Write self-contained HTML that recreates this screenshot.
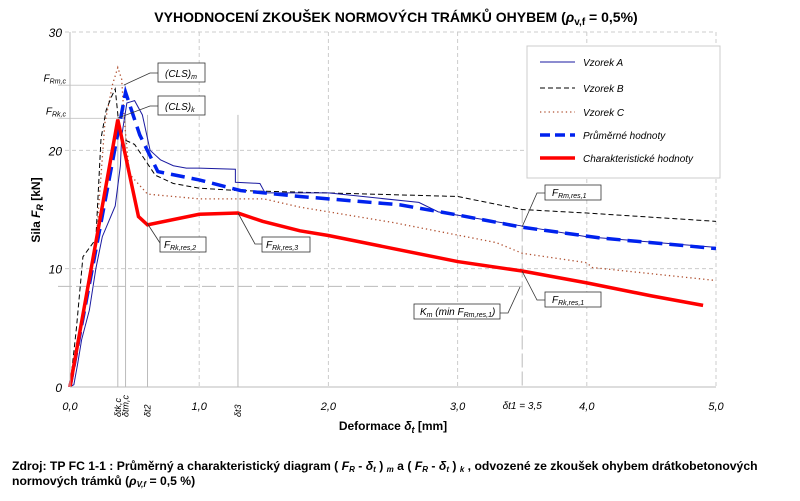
<!DOCTYPE html>
<html><head><meta charset="utf-8"><style>
body{margin:0;background:#fff;font-family:"Liberation Sans",sans-serif}
svg text{font-family:"Liberation Sans",sans-serif}
.it{font-style:italic}
</style></head><body>
<svg id="chart" width="800" height="496" viewBox="0 0 800 496" xmlns="http://www.w3.org/2000/svg">
<text x="396" y="22" text-anchor="middle" font-size="14" font-weight="bold">VYHODNOCENÍ ZKOUŠEK NORMOVÝCH TRÁMKŮ OHYBEM (<tspan class="it">ρ</tspan><tspan font-size="10" dy="3">v,f</tspan><tspan dy="-3"> = 0,5%)</tspan></text>
<g id="grid"></g>
<g id="refs"></g>
<g id="series"></g>
<g id="axes"></g>
<text transform="translate(40,210) rotate(-90)" text-anchor="middle" font-size="12" font-weight="bold">Sila <tspan class="it">F</tspan><tspan font-size="9" dy="3" class="it">R</tspan><tspan dy="-3"> [kN]</tspan></text>
<text x="393" y="430" text-anchor="middle" font-size="12" font-weight="bold">Deformace <tspan class="it">δ</tspan><tspan font-size="9" dy="3" class="it">t</tspan><tspan dy="-3"> [mm]</tspan></text>
<g>
<rect x="527" y="46" width="193" height="132" fill="#fff" stroke="#ccc"/>
<line x1="540" y1="62" x2="575" y2="62" stroke="#1a1aa0" stroke-width="1"/>
<text x="583" y="66" font-size="10" class="it">Vzorek A</text>
<line x1="540" y1="88" x2="575" y2="88" stroke="#000" stroke-width="1" stroke-dasharray="5,3"/>
<text x="583" y="92" font-size="10" class="it">Vzorek B</text>
<line x1="540" y1="112" x2="575" y2="112" stroke="#b05030" stroke-width="1.3" stroke-dasharray="1.3,3"/>
<text x="583" y="116" font-size="10" class="it">Vzorek C</text>
<line x1="540" y1="135" x2="575" y2="135" stroke="#0022ee" stroke-width="3.5" stroke-dasharray="10,5"/>
<text x="583" y="139" font-size="10" class="it">Průměrné hodnoty</text>
<line x1="540" y1="158" x2="575" y2="158" stroke="#ff0000" stroke-width="3.5"/>
<text x="583" y="162" font-size="10" class="it">Charakteristické hodnoty</text>
</g>
<g font-size="10" class="it" stroke-width="0.8">
<polyline points="124,85 150,73 158,73" fill="none" stroke="#333"/>
<rect x="158" y="63" width="47" height="19" fill="#fff" stroke="#333"/>
<text x="165" y="77" class="it">(CLS)<tspan font-size="7" dy="2">m</tspan></text>
<polyline points="118,118 150,106 158,106" fill="none" stroke="#333"/>
<rect x="158" y="96" width="47" height="19" fill="#fff" stroke="#333"/>
<text x="165" y="110" class="it">(CLS)<tspan font-size="7" dy="2">k</tspan></text>
<polyline points="147,223 160,243" fill="none" stroke="#333"/>
<rect x="160" y="237" width="46" height="15" fill="#fff" stroke="#333"/>
<text x="164" y="248" class="it">F<tspan font-size="7" dy="2">Rk,res,2</tspan></text>
<polyline points="238,213 255,244 262,244" fill="none" stroke="#333"/>
<rect x="262" y="237" width="48" height="15" fill="#fff" stroke="#333"/>
<text x="266" y="248" class="it">F<tspan font-size="7" dy="2">Rk,res,3</tspan></text>
<polyline points="522,227 537,193 545,193" fill="none" stroke="#333"/>
<rect x="545" y="185" width="56" height="15" fill="#fff" stroke="#333"/>
<text x="552" y="196" class="it">F<tspan font-size="7" dy="2">Rm,res,1</tspan></text>
<polyline points="522,271 537,300 545,300" fill="none" stroke="#333"/>
<rect x="545" y="292" width="56" height="15" fill="#fff" stroke="#333"/>
<text x="552" y="303" class="it">F<tspan font-size="7" dy="2">Rk,res,1</tspan></text>
<polyline points="520,287 508,313 500,313" fill="none" stroke="#333"/>
<rect x="414" y="304" width="86" height="15" fill="#fff" stroke="#333"/>
<text x="420" y="315" class="it">K<tspan font-size="7" dy="2">m</tspan><tspan dy="-2"> (min F</tspan><tspan font-size="7" dy="2">Rm,res,1</tspan><tspan dy="-2">)</tspan></text>
</g>
<text x="12" y="470" font-size="12.2" font-weight="bold">Zdroj:  TP FC 1-1 : Průměrný a charakteristický diagram ( <tspan class="it">F</tspan><tspan font-size="8" class="it" dy="2">R</tspan><tspan dy="-2">  -  </tspan><tspan class="it">δ</tspan><tspan font-size="8" class="it" dy="2">t</tspan><tspan dy="-2"> ) </tspan><tspan font-size="8" class="it" dy="2">m</tspan><tspan dy="-2">  a  ( </tspan><tspan class="it">F</tspan><tspan font-size="8" class="it" dy="2">R</tspan><tspan dy="-2">  -  </tspan><tspan class="it">δ</tspan><tspan font-size="8" class="it" dy="2">t</tspan><tspan dy="-2"> ) </tspan><tspan font-size="8" class="it" dy="2">k</tspan><tspan dy="-2"> , odvozené ze zkoušek ohybem  drátkobetonových</tspan></text>
<text x="12" y="485" font-size="12.2" font-weight="bold">normových trámků  (<tspan class="it">ρ</tspan><tspan font-size="8" class="it" dy="2">V,f</tspan><tspan dy="-2">  =  0,5 %)</tspan></text>
</svg>
<script>
const xTicks=[0,1,2,3,4,5];
const xTickLabels=["0,0","1,0","2,0","3,0","4,0","5,0"];
const yTicks=[0,10,20,30];
const yTickLabels=["0","10","20","30"];
const sampleA_x=[0,0.03,0.06,0.09,0.15,0.2,0.25,0.35,0.39,0.4,0.44,0.47,0.5,0.56,0.6,0.62,0.66,0.7,0.8,0.9,1.0,1.28,1.28,1.47,1.51,2.0,2.7,2.85,3.5,4.0,5.0];
const sampleA_y=[0,0.2,2,4,6.5,10,12.7,15.3,18.7,21.2,24,24.1,24.2,23,21,20,19.6,19.2,18.7,18.5,18.5,18.4,17.3,17.2,16.4,16.4,15.6,14.8,13.6,12.7,11.8];
const sampleB_x=[0,0.05,0.1,0.2,0.24,0.28,0.32,0.35,0.38,0.4,0.5,0.66,0.8,1.0,1.3,2.0,3.0,3.5,4.0,5.0];
const sampleB_y=[0,5,11,12.5,21,23.4,24.5,25.2,22,21,20.5,17.9,17.2,16.8,16.6,16.4,16.1,15.0,14.7,14.0];
const sampleC_x=[0,0.08,0.2,0.27,0.33,0.37,0.4,0.42,0.46,0.6,1.0,1.5,1.78,2.5,3.3,3.5,4.0,4.04,5.0];
const sampleC_y=[0,5,12,22.3,25.6,27.0,26.0,22.6,18.0,16.3,15.9,15.9,15.2,13.9,12.2,11.3,10.5,10.1,9.0];
const mean_x=[0,0.43,0.54,0.68,1.0,1.32,1.78,2.55,3.02,3.5,4.1,5.0];
const mean_y=[0,24.9,21.3,18.2,17.5,16.6,16.1,15.4,14.5,13.5,12.6,11.7];
const char_x=[0,0.37,0.53,0.6,1.0,1.3,1.49,1.78,2.0,2.5,3.0,3.5,4.0,4.5,4.9];
const char_y=[0,22.6,14.4,13.7,14.6,14.7,14.0,13.2,12.8,11.7,10.6,9.8,8.8,7.7,6.9];
const refX=[0.37,0.43,0.6,1.3];
const refXLabels=["δtk,c","δtm,c","δt2","δt3"];
const fRmc=25.5, fRkc=22.7, km=8.5, dt1=3.5;

const X0=70,X1=716,Y0=387,Y1=32;
const sx=v=>X0+(X1-X0)*v/5;
const sy=v=>Y0-(Y0-Y1)*v/30;
const NS="http://www.w3.org/2000/svg";
function mk(tag,parent,attrs){const e=document.createElementNS(NS,tag);for(const k in attrs)e.setAttribute(k,attrs[k]);parent.appendChild(e);return e;}
const grid=document.getElementById('grid'),axes=document.getElementById('axes'),refs=document.getElementById('refs'),series=document.getElementById('series');
for(let i=1;i<xTicks.length;i++){const l=mk('line',grid,{x1:sx(xTicks[i]),x2:sx(xTicks[i]),y1:Y1,y2:Y0,stroke:'#ccc','stroke-dasharray':'4,3'});

}
for(let i=1;i<yTicks.length;i++){const l=mk('line',grid,{x1:58,x2:X1,y1:sy(yTicks[i]),y2:sy(yTicks[i]),stroke:'#ccc','stroke-dasharray':'4,3'});

}
[[fRmc,'FRm,c'],[fRkc,'FRk,c']].forEach(([v,t])=>{const l=mk('line',refs,{x1:58,x2:sx(0.43),y1:sy(v),y2:sy(v),stroke:'#ccc'});


const tx=mk('text',refs,{x:66,y:sy(v)-4,'font-size':10,'text-anchor':'end','font-style':'italic'});tx.textContent='F';
const s=mk('tspan',tx,{'font-size':7,dy:2});s.textContent=t.slice(1);

});
const kl=mk('line',refs,{x1:58,x2:sx(dt1),y1:sy(km),y2:sy(km),stroke:'#bbb','stroke-dasharray':'14,4'});


const dl=mk('line',refs,{x1:sx(dt1),x2:sx(dt1),y1:sy(15),y2:Y0,stroke:'#bbb','stroke-dasharray':'14,4'});


refX.forEach((v,i)=>{const l=mk('line',refs,{x1:sx(v),x2:sx(v),y1:sy(23),y2:Y0,stroke:'#bbb'});


const tx=mk('text',refs,{transform:`translate(${sx(v)+3},${Y0+30}) rotate(-90)`,'font-size':9,'font-style':'italic'});tx.textContent=refXLabels[i];

});
const dt=mk('text',refs,{x:sx(dt1),y:Y0+22,'font-size':10,'font-style':'italic','text-anchor':'middle'});dt.textContent='δt1 = 3,5';


const ax=mk('line',axes,{x1:X0,x2:X1,y1:Y0,y2:Y0,stroke:'#bbb'});


const ay=mk('line',axes,{x1:X0,x2:X0,y1:Y1,y2:Y0,stroke:'#bbb'});


xTicks.forEach((v,i)=>{const t=mk('text',axes,{x:sx(v),y:Y0+23,'font-size':11,'font-style':'italic','text-anchor':'middle'});t.textContent=xTickLabels[i];

});
yTicks.forEach((v,i)=>{const t=mk('text',axes,{x:62,y:sy(v)+5,'font-size':12,'font-style':'italic','text-anchor':'end'});t.textContent=yTickLabels[i];

});
function line(xs,ys,name,st){const p=mk('polyline',series,Object.assign({points:xs.map((x,i)=>sx(x)+','+sy(ys[i])).join(' '),fill:'none'},st));

}
line(sampleC_x,sampleC_y,'series-vzorek-c',{stroke:'#b05030','stroke-width':1.3,'stroke-dasharray':'1.3,3'});
line(sampleB_x,sampleB_y,'series-vzorek-b',{stroke:'#000','stroke-width':1,'stroke-dasharray':'5,3'});
line(sampleA_x,sampleA_y,'series-vzorek-a',{stroke:'#1a1aa0','stroke-width':1});
line(mean_x,mean_y,'series-mean',{stroke:'#0022ee','stroke-width':3.5,'stroke-dasharray':'14,7'});
line(char_x,char_y,'series-characteristic',{stroke:'#ff0000','stroke-width':3.5});
</script>
</body></html>
